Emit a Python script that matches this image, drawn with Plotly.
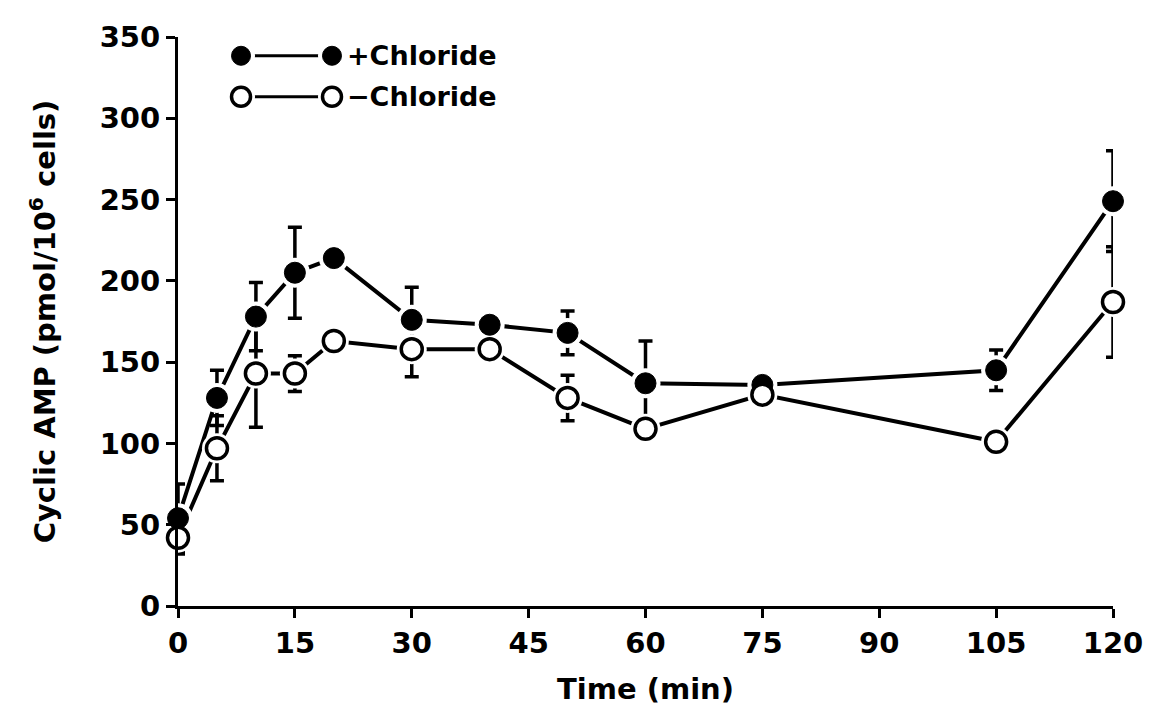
import plotly.graph_objects as go

# ---- data ----
time_min = [0, 5, 10, 15, 20, 30, 40, 50, 60, 75, 105, 120]
plus_cl = [54, 128, 178, 205, 214, 176, 173, 168, 137, 136, 145, 249]
plus_cl_err = [21, 17, 21, 28, None, 20, None, 13.5, 26, None, 12.5, 31]
minus_cl = [42, 97, 143, 143, 163, 158, 158, 128, 109, 130, 101, 187]
minus_cl_err = [10, 20, 33, 11, None, 17, None, 14, None, None, None, 34]

x_ticks = [0, 15, 30, 45, 60, 75, 90, 105, 120]
y_ticks = [0, 50, 100, 150, 200, 250, 300, 350]
series_names = ["+Chloride", "\u2212Chloride"]

FONT = "DejaVu Sans"
FS = 29
MS = 21
HALO = MS + 9


def bfont(size=FS):
    return dict(family=FONT, size=size, color="black", weight="bold")


fig = go.Figure()

# lines with error bars
for ys, err in [(plus_cl, plus_cl_err), (minus_cl, minus_cl_err)]:
    fig.add_trace(go.Scatter(
        x=time_min, y=ys, mode="lines",
        line=dict(color="black", width=4),
        error_y=dict(type="data", array=[e if e is not None else float("nan") for e in err],
                     visible=True, color="black", thickness=3.5, width=7),
        cliponaxis=False, showlegend=False, hoverinfo="skip"))

# white halos to create gaps between lines and markers
for ys in [plus_cl, minus_cl]:
    fig.add_trace(go.Scatter(
        x=time_min, y=ys, mode="markers",
        marker=dict(size=HALO, color="white", line=dict(width=0)),
        cliponaxis=False, showlegend=False, hoverinfo="skip"))

# markers
fig.add_trace(go.Scatter(
    x=time_min, y=plus_cl, mode="markers", name=series_names[0],
    marker=dict(size=MS, color="black", line=dict(color="black", width=1)),
    cliponaxis=False, showlegend=False))
fig.add_trace(go.Scatter(
    x=time_min, y=minus_cl, mode="markers", name=series_names[1],
    marker=dict(size=MS, color="white", line=dict(color="black", width=3.5)),
    cliponaxis=False, showlegend=False))

# custom legend on an overlay axis (paper-like 0..1)
leg_x = [0.0674, 0.1647]
leg_y = [0.967, 0.895]
for i, (fill, lw) in enumerate([("black", 1), ("white", 3.5)]):
    fig.add_trace(go.Scatter(
        x=leg_x, y=[leg_y[i]] * 2, xaxis="x2", yaxis="y2", mode="lines",
        line=dict(color="black", width=3), showlegend=False, hoverinfo="skip",
        cliponaxis=False))
    fig.add_trace(go.Scatter(
        x=leg_x, y=[leg_y[i]] * 2, xaxis="x2", yaxis="y2", mode="markers",
        marker=dict(size=HALO - 2, color="white"), showlegend=False,
        hoverinfo="skip", cliponaxis=False))
    fig.add_trace(go.Scatter(
        x=leg_x, y=[leg_y[i]] * 2, xaxis="x2", yaxis="y2", mode="markers",
        marker=dict(size=MS - 2, color=fill, line=dict(color="black", width=lw)),
        showlegend=False, hoverinfo="skip", cliponaxis=False))
    fig.add_annotation(x=0.1786, y=leg_y[i], xref="paper", yref="paper",
                       text=series_names[i], showarrow=False, xanchor="left",
                       yanchor="middle", font=bfont(27))

fig.update_layout(
    width=1152, height=721,
    margin=dict(l=170, r=47, t=18, b=123),
    paper_bgcolor="white", plot_bgcolor="white",
    font=bfont(),
    xaxis=dict(range=[0, 120], tickvals=x_ticks, ticktext=[str(v) for v in x_ticks],
               showgrid=False, zeroline=False, showline=True, linecolor="black",
               linewidth=3, ticks="outside", ticklen=9, tickwidth=3, tickcolor="black",
               tickfont=bfont(),
               title=dict(text="Time (min)", standoff=20, font=bfont())),
    yaxis=dict(range=[0, 350], tickvals=y_ticks, ticktext=[str(v) for v in y_ticks],
               showgrid=False, zeroline=False, showline=True, linecolor="black",
               linewidth=3, ticks="outside", ticklen=9, tickwidth=3, tickcolor="black",
               tickfont=bfont(),
               title=dict(text="Cyclic AMP (pmol/10<sup>6</sup> cells)", standoff=36,
                          font=bfont())),
    xaxis2=dict(range=[0, 1], overlaying="x", visible=False, fixedrange=True),
    yaxis2=dict(range=[0, 1], overlaying="y", visible=False, fixedrange=True),
)

fig.write_html("out.html")
